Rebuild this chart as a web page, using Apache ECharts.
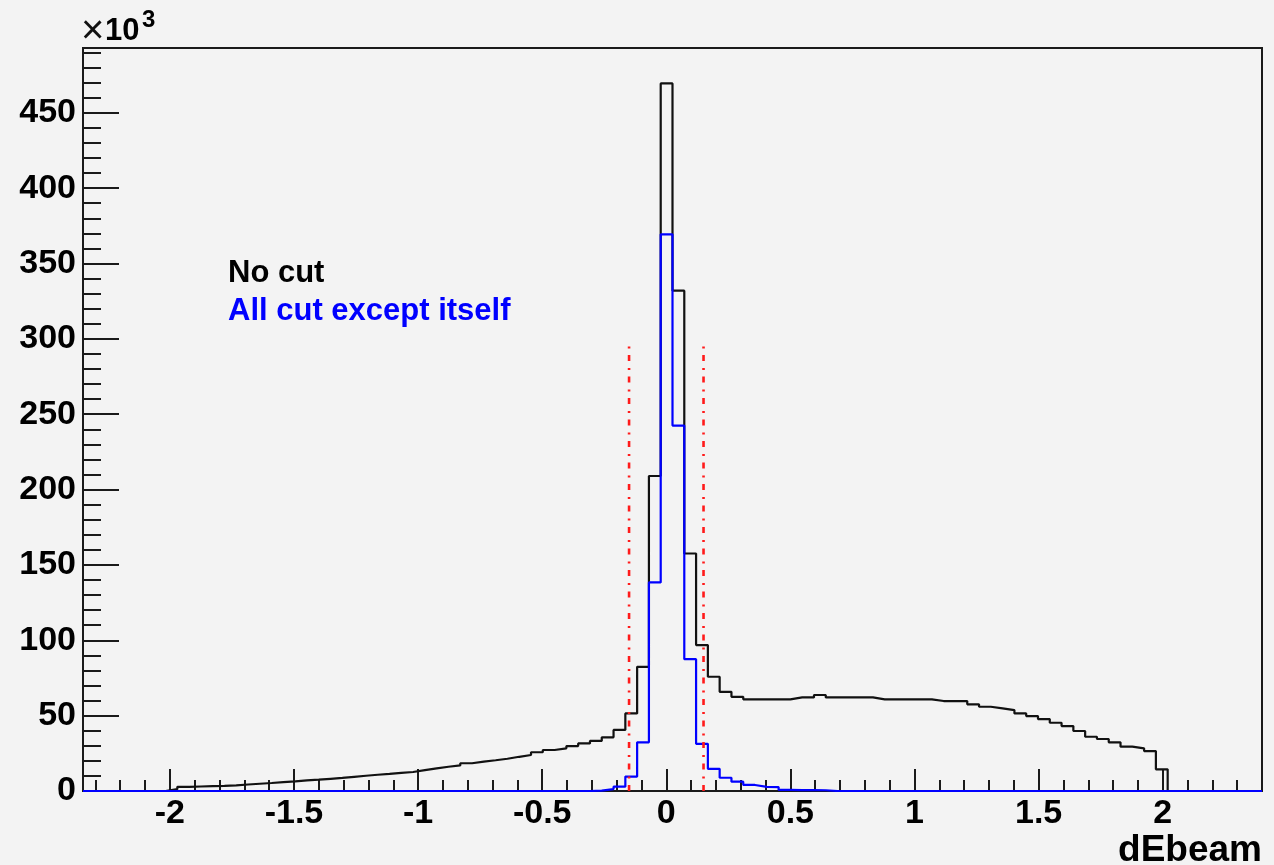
<!DOCTYPE html>
<html>
<head>
<meta charset="utf-8">
<script src="https://cdn.jsdelivr.net/npm/echarts@6/dist/echarts.min.js"></script>
<style>
  html, body { margin: 0; padding: 0; background: #f3f3f3; }
  #chart { width: 1274px; height: 865px; }
</style>
</head>
<body>
<div id="chart"></div>
<script>
// dEbeam histogram binning
const binLow = -2.35;
const binHigh = 2.4;
const binCount = 100;

// Entries per bin (x10^3), no selection applied
const noCut = [
  0, 0, 0, 0, 0, 0, 0, 1.2, 2.8, 3.0,
  3.2, 3.4, 3.7, 4.3, 4.8, 5.3, 5.9, 6.4, 7.0, 7.5,
  8.1, 8.7, 9.4, 10.1, 10.8, 11.3, 12.0, 12.6, 13.9, 15.0,
  16.1, 17.0, 18.4, 19.5, 20.4, 21.4, 22.7, 23.9, 25.7, 27.2,
  28.3, 29.8, 31.6, 33.2, 35.6, 40.5, 51.5, 82.4, 209, 469.5,
  332, 157.6, 96.8, 75.8, 65.8, 62.5, 60.8, 60.8, 60.8, 60.8,
  62.1, 62.1, 63.7, 62.1, 62.1, 62.1, 62.1, 60.8, 60.8, 60.8,
  60.8, 60.8, 59.7, 59.7, 59.7, 57.5, 55.9, 54.8, 53.7, 51.5,
  49.7, 47.7, 45.3, 43.1, 39.8, 36.0, 34.5, 32.3, 29.4, 28.3,
  26.5, 14.4, 0, 0, 0, 0, 0, 0, 0, 0
];

// Entries per bin (x10^3), all other cuts applied
const allCutExceptItself = [
  0, 0, 0, 0, 0, 0, 0, 0, 0, 0,
  0, 0, 0, 0, 0, 0, 0, 0, 0, 0,
  0, 0, 0, 0, 0, 0, 0, 0, 0, 0,
  0, 0, 0, 0, 0, 0, 0, 0, 0, 0,
  0, 0, 0, 0.3, 1.3, 2.9, 9.6, 32.3, 138.4, 369.4,
  242.5, 87.5, 31.3, 14.7, 8.8, 6.2, 4.0, 2.7, 2.6, 0.7,
  0.6, 0.6, 0.5, 0, 0, 0, 0, 0, 0, 0,
  0, 0, 0, 0, 0, 0, 0, 0, 0, 0,
  0, 0, 0, 0, 0, 0, 0, 0, 0, 0,
  0, 0, 0, 0, 0, 0, 0, 0, 0, 0
];

// Cut window on dEbeam and the height of its markers
const cutValues = [-0.15, 0.15];
const cutMarkerTop = 295;

// Vertical range of the frame (x10^3)
const yMax = 493;

// Histogram outline: one point per lower bin edge plus the upper edge of the last bin
function histogramOutline(values) {
  const width = (binHigh - binLow) / binCount;
  const pts = values.map((v, i) => [binLow + i * width, v]);
  pts.push([binHigh, values[values.length - 1]]);
  return pts;
}

const labelFont = {
  color: '#000',
  fontFamily: 'Liberation Sans',
  fontWeight: 'bold',
  fontSize: 34
};
const tickStyle = { color: '#1a1a1a', width: 2 };
const hiddenLine = { show: false, onZero: false };
const gridBox = { left: 83, right: 12, top: 48, bottom: 74, containLabel: false, outerBoundsMode: 'none' };

const cutSeries = cutValues.map(x => ({
  type: 'line',
  xAxisIndex: 0,
  yAxisIndex: 0,
  data: [[x, 0], [x, cutMarkerTop]],
  showSymbol: false,
  silent: true,
  z: 4,
  lineStyle: { color: '#ff1a1a', width: 2.6, type: [6, 6.5, 2, 7] }
}));

const chart = echarts.init(document.getElementById('chart'), null, { renderer: 'canvas' });
chart.setOption({
  animation: false,
  backgroundColor: '#f3f3f3',
  grid: [
    Object.assign({ show: true, borderColor: '#1a1a1a', borderWidth: 2, backgroundColor: 'transparent' }, gridBox),
    Object.assign({ show: false }, gridBox)
  ],
  xAxis: [
    {
      type: 'value', gridIndex: 0, min: binLow, max: binHigh, splitNumber: 10,
      axisLine: hiddenLine,
      axisTick: { inside: true, length: 22, lineStyle: tickStyle },
      axisLabel: Object.assign({ showMinLabel: false, showMaxLabel: false, margin: 6 }, labelFont),
      splitLine: { show: false }
    },
    {
      type: 'value', gridIndex: 1, min: binLow, max: binHigh, splitNumber: 48,
      axisLine: hiddenLine,
      axisTick: { inside: true, length: 11, lineStyle: tickStyle },
      axisLabel: { show: false },
      splitLine: { show: false }
    }
  ],
  yAxis: [
    {
      type: 'value', gridIndex: 0, min: 0, max: yMax, interval: 50,
      axisLine: hiddenLine,
      axisTick: { inside: true, length: 36, lineStyle: tickStyle },
      axisLabel: Object.assign({ showMaxLabel: false, margin: 7 }, labelFont),
      splitLine: { show: false }
    },
    {
      type: 'value', gridIndex: 1, min: 0, max: yMax, interval: 10,
      axisLine: hiddenLine,
      axisTick: { inside: true, length: 18, lineStyle: tickStyle },
      axisLabel: { show: false },
      splitLine: { show: false }
    }
  ],
  series: [
    {
      name: 'No cut',
      type: 'line', xAxisIndex: 0, yAxisIndex: 0,
      step: 'end',
      data: histogramOutline(noCut),
      showSymbol: false, silent: true, z: 2,
      lineStyle: { color: '#111111', width: 2.2 }
    },
    {
      name: 'All cut except itself',
      type: 'line', xAxisIndex: 0, yAxisIndex: 0,
      step: 'end',
      data: histogramOutline(allCutExceptItself),
      showSymbol: false, silent: true, z: 3,
      lineStyle: { color: '#0000ff', width: 2.2 }
    }
  ].concat(cutSeries),
  graphic: [
    { type: 'text', left: 81, top: 12, style: { text: '×', fill: '#111', font: '40px "Liberation Sans"' } },
    { type: 'text', left: 105, top: 16, style: { text: '10', fill: '#000', font: 'bold 31px "Liberation Sans"' } },
    { type: 'text', left: 142, top: 8, style: { text: '3', fill: '#000', font: 'bold 24px "Liberation Sans"' } },
    { type: 'text', right: 12, top: 832, style: { text: 'dEbeam', fill: '#000', font: 'bold 37px "Liberation Sans"' } },
    { type: 'text', left: 228, top: 258, style: { text: 'No cut', fill: '#000', font: 'bold 31px "Liberation Sans"' } },
    { type: 'text', left: 228, top: 296, style: { text: 'All cut except itself', fill: '#0000ff', font: 'bold 31px "Liberation Sans"' } }
  ]
});
</script>
</body>
</html>
